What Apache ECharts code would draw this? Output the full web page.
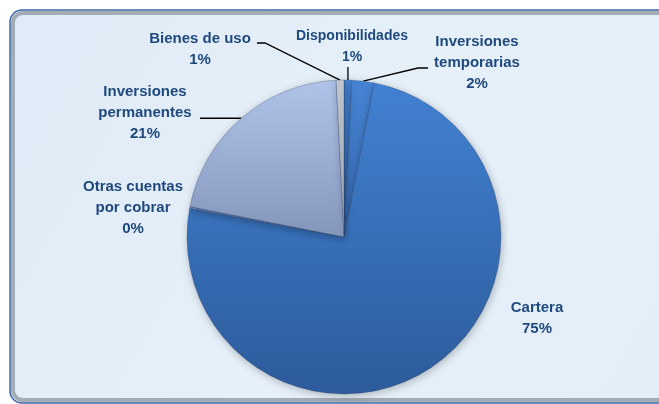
<!DOCTYPE html>
<html>
<head>
<meta charset="utf-8">
<script src="https://cdn.jsdelivr.net/npm/echarts@6/dist/echarts.min.js"></script>
<style>
html,body{margin:0;padding:0;background:#ffffff;}
#chart{width:659px;height:404px;}
</style>
</head>
<body>
<div id="chart"></div>
<script>
// ---- data ----
const categories = ['Disponibilidades', 'Inversiones\ntemporarias', 'Cartera', 'Otras cuentas\npor cobrar', 'Inversiones\npermanentes', 'Bienes de uso'];
const shares = [0.8, 2.3, 74.8, 0.2, 21.1, 0.8];

// ---- styling / layout (not data) ----
const sliceColors = [
  ['#4684d4', '#3566ad'],
  ['#4684d4', '#3566ad'],
  ['#4282d2', '#2d5b9b'],
  ['#6f93cc', '#5a78aa'],
  ['#b0c4ea', '#8596bb'],
  ['#c3c8d0', '#9aa0aa']
];
const labelSpots = [[352, 47], [477, 63], [537, 318], [133, 208], [145, 113], [200, 49]];
const labelSizes = [14, 15, 15, 15, 15, 15];
const leaderTails = [
  function (e) { return [[e[0], 67]]; },
  function () { return [[418, 68], [428, 68]]; },
  null,
  null,
  function (e) { return [[200, e[1]]]; },
  function () { return [[265, 43], [257, 43]]; }
];

const chart = echarts.init(document.getElementById('chart'), null, {renderer: 'canvas'});

const data = categories.map(function (c, i) {
  return {
    name: c,
    value: shares[i],
    itemStyle: {
      color: {
        type: 'linear', x: 0, y: 0, x2: 0, y2: 1,
        colorStops: [{offset: 0, color: sliceColors[i][0]}, {offset: 1, color: sliceColors[i][1]}]
      }
    },
    label: {fontSize: labelSizes[i]},
    labelLine: {show: leaderTails[i] !== null}
  };
});

chart.setOption({
  animation: false,
  backgroundColor: '#ffffff',
  graphic: [
    {
      type: 'rect', z: -10, silent: true,
      shape: {x: 10, y: 10, width: 690, height: 393, r: 12},
      style: {
        fill: {
          type: 'linear', x: 0, y: 0, x2: 1, y2: 1,
          colorStops: [{offset: 0, color: '#dfeaf6'}, {offset: 0.5, color: '#e6f0f9'}, {offset: 1, color: '#e2eef8'}]
        },
        stroke: '#3d67a6', lineWidth: 1.5
      }
    },
    {
      type: 'rect', z: -9, silent: true,
      shape: {x: 13, y: 13, width: 684, height: 387, r: 10},
      style: {fill: 'none', stroke: '#a3abb5', lineWidth: 4}
    }
  ],
  series: [{
    type: 'pie',
    center: [344, 237],
    radius: [0, 157],
    startAngle: 90,
    clockwise: true,
    avoidLabelOverlap: false,
    percentPrecision: 0,
    data: data,
    itemStyle: {
      borderColor: 'rgba(30,50,90,0.45)',
      borderWidth: 0.6,
      shadowBlur: 8,
      shadowColor: 'rgba(0,0,0,0.25)',
      shadowOffsetX: 1,
      shadowOffsetY: 2
    },
    label: {
      show: true,
      position: 'outside',
      formatter: '{b}\n{d}%',
      color: '#1f497d',
      fontFamily: '"Liberation Sans", Arial, sans-serif',
      fontWeight: 'bold',
      fontSize: 15,
      lineHeight: 21,
      align: 'center'
    },
    labelLine: {
      show: true,
      length: 10,
      length2: 10,
      lineStyle: {color: '#000000', width: 1.3}
    },
    labelLayout: function (p) {
      const s = labelSpots[p.dataIndex];
      const out = {x: s[0], y: s[1], align: 'center', verticalAlign: 'middle', fontSize: labelSizes[p.dataIndex]};
      const tail = leaderTails[p.dataIndex];
      if (tail && p.labelLinePoints) {
        const e = p.labelLinePoints[0];
        out.labelLinePoints = [[e[0], e[1]]].concat(tail(e));
      }
      return out;
    },
    emphasis: {disabled: true}
  }]
});
</script>
</body>
</html>
